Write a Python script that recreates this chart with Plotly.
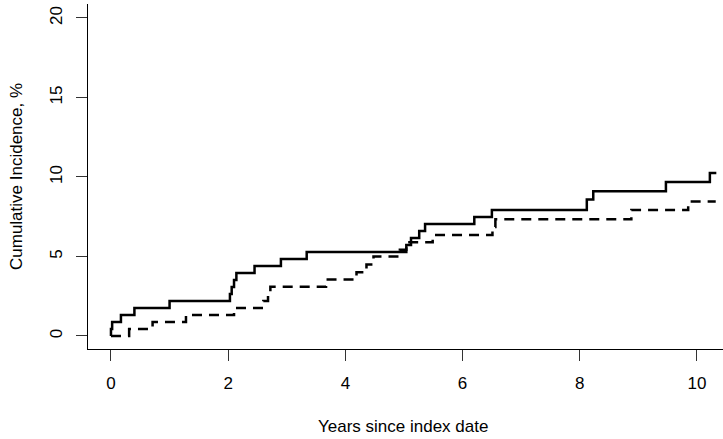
import plotly.graph_objects as go

# step curves (years, cumulative incidence %)
solid_x = [0, 0, 0.02, 0.17, 0.40, 1.00, 2.03, 2.06, 2.10, 2.14, 2.45, 2.90, 3.34,
           5.04, 5.12, 5.26, 5.36, 6.20, 6.50, 8.12, 8.23, 9.47, 10.22, 10.33]
solid_y = [0, 0.44, 0.88, 1.32, 1.76, 2.20, 2.64, 3.08, 3.52, 3.96, 4.40, 4.84, 5.28,
           5.72, 6.16, 6.60, 7.04, 7.48, 7.92, 8.58, 9.10, 9.68, 10.25, 10.25]

dashed_x = [0, 0.31, 0.71, 1.28, 2.10, 2.60, 2.68, 2.72, 3.67, 4.19, 4.36, 4.48,
            4.93, 5.04, 5.49, 6.51, 6.56, 8.88, 9.85, 10.32]
dashed_y = [0, 0.44, 0.88, 1.32, 1.76, 2.20, 2.64, 3.10, 3.55, 4.00, 4.50, 5.00,
            5.42, 5.90, 6.35, 6.85, 7.34, 7.92, 8.45, 8.45]

x_ticks = [0, 2, 4, 6, 8, 10]
y_ticks = [0, 5, 10, 15, 20]

FONT = "Liberation Sans, Arial, Helvetica, sans-serif"

fig = go.Figure()
fig.add_trace(go.Scatter(x=solid_x, y=solid_y, mode="lines", line_shape="hv",
                         line=dict(color="black", width=2.5)))
fig.add_trace(go.Scatter(x=dashed_x, y=dashed_y, mode="lines", line_shape="hv",
                         line=dict(color="black", width=2.5, dash="10px,7px")))

fig.update_layout(
    width=723, height=439,
    margin=dict(l=88, r=0, t=4, b=90),
    plot_bgcolor="white", paper_bgcolor="white",
    showlegend=False,
    font=dict(family=FONT, size=17, color="black"),
)
fig.update_xaxes(range=[-0.392, 10.444], tickvals=x_ticks, ticks="outside", ticklen=11,
                 tickcolor="#333", tickwidth=1, showline=True, linecolor="black", linewidth=1,
                 showgrid=False, zeroline=False, ticklabelstandoff=8, automargin=False)
fig.update_yaxes(range=[-0.82, 20.88], tickvals=y_ticks, ticks="outside", ticklen=11,
                 tickcolor="#333", tickwidth=1, showline=True, linecolor="black", linewidth=1,
                 showgrid=False, zeroline=False, tickangle=-90, ticklabelstandoff=7,
                 automargin=False)

fig.add_annotation(text="Years since index date", xref="paper", yref="paper",
                   x=(402.5 - 88) / 635, y=-(426 - 349) / 345, showarrow=False,
                   xanchor="center", yanchor="middle", font=dict(size=17))
fig.add_annotation(text="Cumulative Incidence, %", xref="paper", yref="paper",
                   x=-(88 - 17) / 635, y=(349 - 177) / 345, showarrow=False, textangle=-90,
                   xanchor="center", yanchor="middle", font=dict(size=17))

# drop the browser's default 8px body margin so the figure sits at the page corner
fig.write_html("out.html", config={"displayModeBar": False},
               post_script="document.body.style.margin='0';")
